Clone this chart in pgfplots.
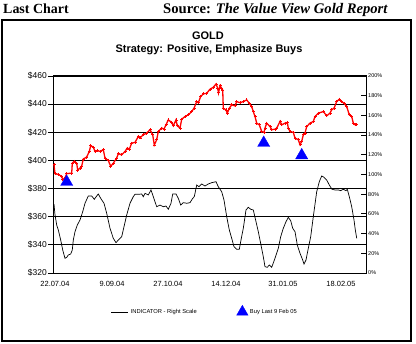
\documentclass[border=0pt]{standalone}
\usepackage{pgfplots}
\pgfplotsset{compat=1.18}
\usepackage{fontspec}
\setmainfont{Liberation Serif}
\newfontfamily\arial{Liberation Sans}

\pgfplotstableread{
x p
1.0 397
2.0 390.6
5.3 390
8.7 388.7
9.7 386.4
12.0 387.6
13.7 390.6
18.7 391
19.3 398
21.3 399.4
23.7 398
24.7 393
27.0 394.6
28.7 396
30.3 401
33.7 402.4
36.3 406.4
37.7 410.4
40.3 409.5
42.0 406.4
44.3 407
47.0 406.4
50.3 407.6
52.0 401.7
55.3 400
57.7 395.8
60.3 398
63.7 401.7
65.3 404.8
68.7 404
72.0 406.4
74.3 408.8
76.3 408
78.7 412.3
82.0 412.8
85.3 417
87.0 416
90.3 418.2
93.7 419.4
97.0 421.8
99.7 418.2
101.3 411
103.7 414.7
105.3 420.6
108.7 423
111.0 422.3
113.0 425.3
115.3 428.8
118.7 427
120.3 424.6
123.0 428.8
124.3 424.6
127.0 423
128.7 429.3
132.0 431.2
135.3 432.4
138.7 434.7
141.0 437.1
143.7 441.8
145.3 441
147.7 445.4
150.3 447.3
153.7 447.7
157.0 450.6
160.3 452
163.0 454.3
164.7 451.3
165.5 448
167.0 453
168.7 451.3
169.7 450
170.3 437.1
173.0 435.9
174.3 433.6
176.3 437.1
178.7 439.5
182.0 438.8
183.7 441.8
187.0 441
190.3 441.8
193.7 443
196.3 440.6
198.7 438.3
200.3 434.7
202.0 431.2
203.7 426.5
206.3 425.3
208.7 420.6
211.0 419.9
212.0 422.9
213.7 426.5
217.0 424.1
218.7 421.8
222.0 422.2
223.7 422.9
227.0 427.7
228.7 425.3
232.0 426.5
234.3 427
235.3 422.9
237.0 420.6
240.3 419.9
242.0 415.9
245.3 414.7
247.0 411.2
248.7 413.5
250.3 418.2
252.0 419.4
253.7 424.1
257.0 426.5
260.3 427.7
262.0 431.2
265.3 433.6
270.3 434.7
273.7 431.7
277.0 433.6
278.7 436
281.0 437.1
283.7 441.8
286.3 443.5
288.7 441.8
291.0 440.6
293.7 438.3
296.3 432.4
298.7 431.2
300.3 426.5
302.0 425.3
303.7 425.3
}\price

\pgfplotstableread{
x v
1.0 70
2.0 59
3.7 48.7
5.3 43.7
7.7 33.5
9.7 23.4
12.0 14.9
13.7 15.9
15.3 18.3
17.7 19.3
19.3 23.4
20.3 33.5
22.0 42
24.3 48.7
27.0 53.8
29.7 62.2
32.0 70.8
35.3 78.2
38.7 78.2
41.3 74.8
43.7 78.2
45.3 80.2
47.7 75.8
51.0 70.8
53.7 60.6
57.0 45.4
60.3 35.2
63.0 30.8
65.3 33.5
68.7 36.9
71.0 47
73.7 58.9
77.0 70.8
80.3 77.5
82.0 79.9
85.3 79.9
88.7 80.2
90.3 77.5
92.0 80.9
95.3 79.2
98.0 84.3
100.3 77.5
103.7 67.3
107.0 69
110.3 67.3
113.0 68
115.3 64.7
118.0 70.8
119.7 80.2
123.0 80.2
125.3 75.8
127.7 69
130.3 71.4
133.7 70.8
137.0 71.4
139.7 75.8
141.3 77.5
143.7 89.3
146.0 87.6
148.7 90.4
152.0 88.3
155.3 90.4
158.7 91.7
163.0 92.7
165.3 87.6
168.7 82.5
171.0 74.1
173.7 57.2
176.3 43.7
178.7 35.2
181.0 26.7
183.7 24.1
186.3 24.1
188.0 33.5
190.3 45.4
193.0 64
195.3 66.7
197.7 64.7
200.3 64
203.0 52.1
205.3 42
208.0 28.4
210.3 16.5
212.0 6.4
214.3 5.8
216.3 8.1
218.7 5.8
222.0 14.9
225.3 25.1
227.7 36.9
230.3 45.4
233.0 52.1
235.3 56.5
237.7 53.1
239.7 45.4
242.0 42
244.3 28.4
247.0 20
249.7 13.2
251.0 9.1
253.0 13.2
255.3 25.1
257.7 36.9
260.3 57.2
263.7 82.5
266.3 92.7
268.7 98.5
271.0 97.2
273.7 94.4
276.3 89.3
279.0 85
282.0 84.3
285.3 84.3
287.7 83.6
290.3 85
293.0 83.6
294.3 85
296.3 77.5
298.7 67.3
301.0 53.8
302.3 43.7
303.7 35.2
}\indic

\pgfplotstableread{
x p
13.7 384.7
210.7 412.4
248.7 403.6
}\buys

\definecolor{buyblue}{RGB}{0,0,255}
\definecolor{goldred}{RGB}{255,0,0}

\begin{document}
\begin{tikzpicture}
\useasboundingbox (0,0) rectangle (416bp,344bp);
\fill[white] (0,0) rectangle (416bp,344bp);
\draw[line width=1.5bp] (2bp,3bp) rectangle (411bp,324bp);
\node[anchor=base west, inner sep=0, font=\fontsize{14}{16}\selectfont\bfseries] at (3bp,330.5bp) {Last Chart};
\node[anchor=base west, inner sep=0, font=\fontsize{14.7}{16}\selectfont\bfseries] at (163bp,330.5bp) {Source: \textit{The Value View Gold Report}};
\node[anchor=base, inner sep=0, font=\arial\bfseries\fontsize{11}{13}\selectfont] at (208bp,304bp) {GOLD};
\node[anchor=base, inner sep=0, font=\arial\bfseries\fontsize{11}{13}\selectfont] at (209bp,291bp) {Strategy: Positive, Emphasize Buys};

\begin{axis}[
  at={(53bp,71bp)}, anchor=south west,
  scale only axis, width=313bp, height=197bp,
  xmin=0, xmax=313, ymin=320, ymax=460,
  axis line style={line width=1bp},
  ytick={320,340,...,460},
  yticklabels={\$320,\$340,\$360,\$380,\$400,\$420,\$440,\$460},
  ytick pos=left, tick align=outside,
  major tick length=5bp,
  ytick style={line width=0.8bp, black},
  ymajorgrids, major grid style={line width=0.9bp, black},
  xtick={2,59,115,173,230,288},
  xticklabels={22.07.04,9.09.04,27.10.04,14.12.04,31.01.05,18.02.05},
  xtick style={draw=none},
  yticklabel style={font=\arial\fontsize{8.5}{10}\selectfont, inner sep=1bp},
  xticklabel style={font=\arial\fontsize{7.5}{9}\selectfont, inner sep=0bp, yshift=-3bp},
  /pgf/number format/assume math mode=true,
  clip=false,
]
\addplot[goldred, line width=1.3bp, mark=+, mark size=1.5bp, mark options={line width=0.8bp}] table {\price};
\addplot[buyblue, only marks, mark=triangle*, mark size=7bp] table {\buys};
\end{axis}

\begin{axis}[
  at={(53bp,71bp)}, anchor=south west,
  scale only axis, width=313bp, height=197bp,
  xmin=0, xmax=313, ymin=0, ymax=200,
  axis x line=none,
  axis y line*=right,
  axis line style={line width=1bp},
  ytick={0,20,...,200},
  yticklabels={0\%,20\%,40\%,60\%,80\%,100\%,120\%,140\%,160\%,180\%,200\%},
  tick align=inside,
  major tick length=5bp,
  ytick style={line width=0.8bp, black},
  yticklabel style={font=\arial\fontsize{5.5}{6.5}\selectfont, inner sep=1bp, xshift=1bp},
  /pgf/number format/assume math mode=true,
  legend columns=2,
  legend style={draw=none, fill=none, at={(0.185,-0.193)}, anchor=west,
    font=\arial\fontsize{5.8}{7}\selectfont, inner sep=0pt,
    /tikz/every even column/.append style={column sep=38bp}},
  legend cell align=left,
]
\addplot[black, line width=0.7bp] table {\indic};
\addlegendentry{INDICATOR - Right Scale}
\addlegendimage{buyblue, only marks, mark=triangle*, mark size=6.5bp}
\addlegendentry{Buy Last 9 Feb 05}
\end{axis}
\end{tikzpicture}
\end{document}
